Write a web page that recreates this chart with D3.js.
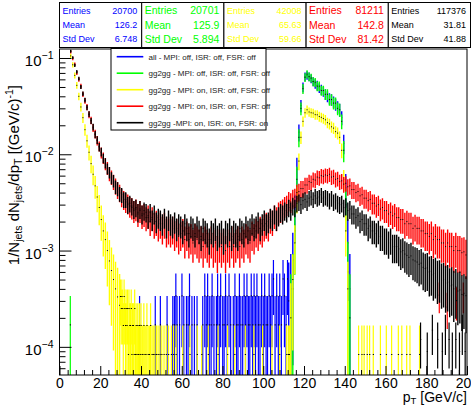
<!DOCTYPE html>
<html>
<head>
<meta charset="utf-8">
<script src="https://cdn.jsdelivr.net/npm/d3@7"></script>
<style>
  body { margin: 0; background: #fff; }
  svg { display: block; font-family: "Liberation Sans", Arial, sans-serif; }
</style>
</head>
<body>
<svg id="chart" width="471" height="406"></svg>
<script>
// ---------------- data ----------------
const seriesNames = [
  "all - MPI: off, ISR: off, FSR: off",
  "gg2gg - MPI: off, ISR: off, FSR: off",
  "gg2gg - MPI: on, ISR: off, FSR: off",
  "gg2gg - MPI: on, ISR: on, FSR: off",
  "gg2gg -MPI: on, ISR: on, FSR: on"
];
const seriesColors = ["#0000ff", "#00ff00", "#ffff00", "#ff0000", "#000000"];
const statEntries = ["20700", "20701", "42008", "81211", "117376"];
const statMeans = ["126.2", "125.9", "65.63", "142.8", "31.81"];
const statStdDevs = ["6.748", "5.894", "59.66", "81.42", "41.88"];
const entryCounts = [20700, 20701, 42008, 81211, 117376];

const xTickValues = [0, 20, 40, 60, 80, 100, 120, 140, 160, 180, 200];
const yTickValues = [1e-4, 1e-3, 1e-2, 1e-1];
const yTickExponents = ["\u22124", "\u22123", "\u22122", "\u22121"];

// 1 GeV cells, first cell starts at the given pT
const blackStart = 5;
const blackValues = [
  .118,.101,.084,.072,.061,.050,.0425,.0365,.0305,.0262,
  .0222,.0192,.0161,.0141,.0119,.0106,.0091,.0081,.0071,.0065,
  .0057,.0053,.0046,.0044,.0039,.0038,.0034,.0034,.0030,.0031,
  .0029,.0027,.0028,.0025,.0027,.0024,.0026,.0025,.0022,.0025,
  .0021,.0024,.0020,.0022,.0021,.0019,.0022,.0018,.0021,.0019,
  .0018,.0020,.0017,.0019,.0018,.0016,.0019,.0017,.0015,.0018,
  .0017,.0015,.0018,.0016,.0014,.0017,.0016,.0015,.0013,.0016,
  .0015,.0017,.0014,.0015,.0016,.0013,.0016,.0015,.0017,.0014,
  .0016,.0015,.0014,.0017,.0016,.0015,.0018,.0016,.0017,.0019,
  .0017,.0018,.0020,.0017,.0019,.0021,.0019,.0020,.0022,.0021,
  .0024,.0021,.0023,.0025,.0024,.0026,.0025,.0028,.0026,.0029,
  .0028,.0031,.0032,.0030,.0033,.0034,.0032,.0035,.0036,.0034,
  .0037,.0035,.0036,.0038,.0035,.0036,.0035,.0033,.0035,.0032,
  .0033,.0031,.0030,.0031,.0028,.0029,.0026,.0027,.0024,.0024,
  .0022,.0023,.0020,.0021,.0019,.0019,.0017,.0018,.0016,.0016,
  .0015,.0016,.0014,.0014,.0013,.0013,.0012,.0013,.0011,.0011,
  .0011,.00104,.00097,.0010,.00092,.00089,.00085,.00088,.0008,.00078,
  .00076,.00072,.00074,.00067,.00065,.00066,.0006,.00061,.00056,.00058,
  .00053,.00054,.00049,.0005,.00046,.00047,.00043,.00044,.0004,.00042,
  .00038,.00039,.00035,.00036,.00034
];

const redStart = 5;
const redValues = [
  .116,.099,.086,.070,.060,.051,.0420,.0360,.0310,.0258,
  .0225,.0188,.0163,.0139,.0121,.0104,.0092,.0080,.0072,.0063,
  .0058,.0052,.0047,.0043,.0040,.0036,.0034,.0032,.0031,.0029,
  .0028,.0026,.0027,.0024,.0026,.0023,.0024,.0022,.0023,.0020,
  .0022,.0019,.0020,.0018,.0019,.0017,.0019,.0016,.0017,.0016,
  .0017,.0015,.0016,.0014,.0015,.0016,.0013,.0015,.0013,.0014,
  .0012,.0014,.0013,.0012,.0013,.0011,.0013,.0012,.0011,.0013,
  .0011,.0012,.0010,.0012,.0011,.0012,.0010,.0012,.0011,.0013,
  .0011,.0012,.0013,.0011,.0013,.0012,.0014,.0013,.0012,.0015,
  .0014,.0016,.0015,.0017,.0016,.0018,.0019,.0018,.0021,.0020,
  .0023,.0022,.0025,.0026,.0027,.0029,.0030,.0033,.0032,.0035,
  .0036,.0040,.0041,.0044,.0044,.0048,.0048,.0052,.0051,.0055,
  .0054,.0058,.0057,.0060,.0059,.0061,.0060,.0062,.0058,.0059,
  .0055,.0056,.0052,.0053,.0049,.0050,.0046,.0047,.0043,.0043,
  .0040,.0041,.0037,.0038,.0035,.0035,.0033,.0034,.0031,.0031,
  .0029,.0030,.0027,.0028,.0026,.0026,.0024,.0025,.0023,.0024,
  .0022,.0022,.0021,.0021,.0019,.0020,.0019,.0019,.0017,.0018,
  .0017,.0017,.0016,.0016,.0015,.0015,.0014,.0015,.0013,.0014,
  .0013,.0013,.0012,.0012,.0011,.0012,.0011,.0011,.0010,.0011,
  .0010,.0010,.00095,.00097,.0009
];

const yellowLowStart = 5;
const yellowLowValues = [
  .105,.085,.066,.052,.040,.031,.024,.018,.0138,.0105,
  .0080,.0062,.0047,.0036,.0028,.0021,.0016,.0013,.0010,.00078,
  .00062,.0005,.0004,.00033,.00027
];
const yellowPeakStart = 113;
const yellowPeakValues = [
  .0002,.0005,.0012,.0035,.0085,.015,.022,.027,.029,.0275,
  .027,.0268,.0258,.0257,.0247,.0242,.0235,.0228,.0213,.0207,
  .0193,.0187,.0172,.0166,.015,.011,.0055,.0016,.0004
];
const greenPeakStart = 113;
const greenPeakValues = [
  .0002,.0004,.0016,.0055,.015,.030,.048,.063,.068,.064,
  .062,.057,.056,.051,.051,.046,.046,.042,.042,.037,
  .037,.034,.034,.030,.029,.022,.011,.003,.0006,.0002
];
const bluePeakStart = 112;
const bluePeakValues = [
  .0003,.0004,.0008,.0025,.0070,.017,.032,.050,.064,.066,
  .064,.061,.057,.054,.052,.049,.047,.045,.042,.040,
  .038,.037,.035,.033,.031,.029,.024,.013,.0045,.0012,.0004
];

// isolated fine bins: [pT, entries]
const blueSparse = [
  [39.3,1],[47.0,1],[49.5,1],[52.8,1],[55.6,1],[56.4,1],[57.1,2],[57.7,1],[58.9,1],
  [60.1,2],[61.0,1],[62.3,1],[63.1,1],[63.8,2],[65.0,1],[66.2,1],[67.5,1],[70.3,1],
  [71.3,2],[72.0,1],[72.7,2],[73.5,1],[74.4,1],[74.9,2],[75.8,1],[77.0,1],[77.6,2],
  [78.4,1],[79.1,2],[80.1,1],[80.8,1],[81.5,2],[82.3,1],[83.2,2],[84.0,1],[85.3,1],
  [86.1,2],[86.9,1],[87.6,1],[88.3,2],[89.0,1],[89.9,1],[90.6,2],[91.3,1],[92.0,2],
  [92.7,1],[93.4,1],[94.1,2],[94.8,1],[95.5,2],[96.2,1],[96.9,2],[97.6,1],[98.4,1],
  [99.2,2],[100.0,1],[100.7,2],[101.4,1],[102.1,1],[102.9,2],[103.6,1],[104.3,2],
  [105.0,3],[105.8,1],[106.6,2],[107.4,1],[108.1,2],[108.9,1],[109.7,3],[110.4,2],
  [111.2,1],[111.9,3]
];
const greenSparse = [[5.3,1]];
const yellowSparse = [
  [29.9,4],[30.3,3],[30.6,4],[31.0,3],[31.3,2],[31.7,4],[32.0,3],[32.4,2],[32.7,3],
  [33.1,2],[33.4,3],[33.8,1],[34.1,3],[34.5,2],[34.8,2],[35.2,3],[35.5,1],[35.9,2],
  [36.2,2],[36.6,1],[36.9,3],[37.3,1],[37.6,2],[38.0,1],[38.4,2],[38.8,1],[39.2,2],
  [39.6,1],[40.0,2],[40.5,1],[40.9,1],[41.4,2],[41.9,1],[42.4,1],[42.9,2],[43.5,1],
  [44.1,1],[44.7,2],[45.4,1],[46.0,1],[46.8,1],[47.6,1],[48.4,1],[49.3,1],[50.2,1],
  [51.3,1],[52.4,1],[53.5,1],[54.9,1],[56.0,1],[57.2,1],[60.5,1],[64.0,1],
  [67.6,1],[69.8,1],[73.0,1],[77.8,1],[82.5,1],[86.0,1],[91.2,1],[95.4,1],[99.7,1],
  [104.3,1],[108.0,1],[111.5,1],[112.3,1],[112.8,1],
  [146.8,1],[148.4,1],[149.5,1],[151.0,1],[152.2,1],[154.0,1],[157.5,1],[160.4,1],
  [163.0,1],[166.3,1],[168.0,1],[170.4,1],[172.0,1],[176.7,1]
];
const redSparse = [[186.4,8],[190.3,6],[194.8,7],[198.2,8]];
const blackSparse = [
  [177.2,4],[180.5,3],[183.0,5],[185.6,4],[187.9,3],[189.4,5],[191.2,4],
  [192.8,3],[194.5,4],[196.3,3],[197.7,5],[199.1,3]
];

// ---------------- drawing ----------------
const binWidth = 200 / 700;              // fine-bin width in GeV
const svg = d3.select("#chart");
const W = 471, H = 406;
const plot = { left: 59.5, right: 467, top: 49, bottom: 375 };

const x = d3.scaleLinear().domain([0, 200]).range([plot.left, plot.right]);
const y = d3.scaleLog().domain([5.1e-5, 0.124]).range([plot.bottom, plot.top]);
const yMin = y.domain()[0];

svg.append("rect").attr("width", W).attr("height", H).attr("fill", "#fff");

svg.append("defs").append("clipPath").attr("id", "plotClip")
  .append("rect")
  .attr("x", plot.left).attr("y", plot.top)
  .attr("width", plot.right - plot.left).attr("height", plot.bottom - plot.top);

const marks = svg.append("g").attr("clip-path", "url(#plotClip)");

// weight of one entry in normalised units
const unit = i => 1 / (entryCounts[i] * binWidth);

// Each 1 GeV cell stands for a few fine bins; its bar spans two
// standard errors so it covers the spread of those bins.
function drawCells(i, start, values) {
  const g = marks.append("g");
  const w = unit(i);
  const cells = values.map((v, k) => ({ p: start + k + 0.5, v }));
  g.selectAll("line").data(cells).join("line")
    .attr("x1", d => x(d.p)).attr("x2", d => x(d.p))
    .attr("y1", d => y(Math.max(yMin, d.v - 2 * Math.sqrt(d.v * w))))
    .attr("y2", d => y(d.v + 2 * Math.sqrt(d.v * w)))
    .attr("stroke", seriesColors[i]).attr("stroke-width", 1.4);
  g.selectAll("rect").data(cells).join("rect")
    .attr("x", d => x(d.p) - 0.5).attr("y", d => y(d.v) - 0.5)
    .attr("width", 1).attr("height", 1).attr("fill", "#000");
}

function drawSparse(i, entries) {
  const g = marks.append("g");
  const w = unit(i);
  const bins = entries.map(([p, n]) => ({ p, v: n * w, e: Math.sqrt(n) * w }));
  g.selectAll("line").data(bins).join("line")
    .attr("x1", d => x(d.p)).attr("x2", d => x(d.p))
    .attr("y1", d => y(Math.max(yMin, d.v - d.e)))
    .attr("y2", d => y(d.v + d.e))
    .attr("stroke", seriesColors[i]).attr("stroke-width", 1.2);
  g.selectAll("rect").data(bins).join("rect")
    .attr("x", d => x(d.p) - 0.5).attr("y", d => y(d.v) - 0.5)
    .attr("width", 1.2).attr("height", 1).attr("fill", "#000");
}

// draw order follows the legend
drawSparse(0, blueSparse);
drawCells(0, bluePeakStart, bluePeakValues);
drawSparse(1, greenSparse);
drawCells(1, greenPeakStart, greenPeakValues);
drawCells(2, yellowLowStart, yellowLowValues);
drawSparse(2, yellowSparse);
drawCells(2, yellowPeakStart, yellowPeakValues);
drawCells(3, redStart, redValues);
drawSparse(3, redSparse);
drawCells(4, blackStart, blackValues);
drawSparse(4, blackSparse);

// ---------------- axes ----------------
const xMinor = d3.range(0, 201, 4).filter(v => v % 20 !== 0);
const xAxisG = svg.append("g").attr("transform", `translate(0,${plot.bottom})`);
xAxisG.call(d3.axisBottom(x).tickValues(xMinor).tickSize(-5).tickFormat(""));
xAxisG.append("g").call(d3.axisBottom(x).tickValues(xTickValues).tickSize(-9)
  .tickPadding(3.5).tickFormat(d3.format("d")));
xAxisG.selectAll(".domain").remove();
xAxisG.selectAll("line").attr("stroke", "#000");
xAxisG.selectAll("text").attr("font-size", 14).attr("fill", "#000")
  .attr("font-family", "Liberation Sans, Arial, sans-serif");

const yMinor = y.ticks().filter(v => !yTickValues.some(t => Math.abs(t - v) / t < 1e-6));
const yAxisG = svg.append("g").attr("transform", `translate(${plot.left},0)`);
yAxisG.call(d3.axisLeft(y).tickValues(yMinor).tickSize(-6).tickFormat(""));
yAxisG.append("g").call(d3.axisLeft(y).tickValues(yTickValues).tickSize(-12).tickFormat(""));
yAxisG.selectAll(".domain").remove();
yAxisG.selectAll("line").attr("stroke", "#000");

// decade labels with superscript exponents
const yLab = svg.append("g").attr("font-size", 15).attr("fill", "#000");
yTickValues.forEach((v, k) => {
  const t = yLab.append("text").attr("x", 53.5).attr("y", y(v) + 8).attr("text-anchor", "end");
  t.append("tspan").text("10");
  t.append("tspan").attr("dy", -7).attr("font-size", 10.5).text(yTickExponents[k]);
});

// frame
svg.append("rect")
  .attr("x", plot.left).attr("y", plot.top)
  .attr("width", plot.right - plot.left).attr("height", plot.bottom - plot.top)
  .attr("fill", "none").attr("stroke", "#000").attr("stroke-width", 1);

// axis titles
const xt = svg.append("text").attr("x", 467).attr("y", 401.5).attr("text-anchor", "end")
  .attr("font-size", 14);
xt.append("tspan").text("p");
xt.append("tspan").attr("dy", 2.5).attr("font-size", 9.5).text("T");
xt.append("tspan").attr("dy", -2.5).text(" [GeV/c]");

const yt = svg.append("text")
  .attr("transform", "translate(19,85) rotate(-90)")
  .attr("text-anchor", "end").attr("font-size", 15);
yt.append("tspan").text("1/N");
yt.append("tspan").attr("dy", 3).attr("font-size", 10.5).text("jets");
yt.append("tspan").attr("dy", -3).text(" dN");
yt.append("tspan").attr("dy", 3).attr("font-size", 10.5).text("jets");
yt.append("tspan").attr("dy", -3).text("/dp");
yt.append("tspan").attr("dy", 3).attr("font-size", 10.5).text("T");
yt.append("tspan").attr("dy", -3).text(" [(GeV/c)");
yt.append("tspan").attr("dy", -6).attr("font-size", 10.5).text("-1");
yt.append("tspan").attr("dy", 6).text("]");

// ---------------- statistics boxes ----------------
const boxW = 82.2, boxTop = 2.5, boxH = 45;
const statFont = [9, 10.5, 9, 10.5, 9];
const statLabels = ["Entries", "Mean", "Std Dev"];
seriesColors.forEach((c, i) => {
  const bx = 59.5 + i * boxW;
  const g = svg.append("g");
  g.append("rect").attr("x", bx).attr("y", boxTop).attr("width", boxW).attr("height", boxH)
    .attr("fill", "#fff").attr("stroke", "#000").attr("stroke-width", 1);
  const vals = [statEntries[i], statMeans[i], statStdDevs[i]];
  statLabels.forEach((lab, r) => {
    const ty = boxTop + 11.5 + r * 14.2 + (statFont[i] - 9) * 0.3;
    g.append("text").attr("x", bx + 3).attr("y", ty).attr("font-size", statFont[i])
      .attr("fill", c).text(lab);
    g.append("text").attr("x", bx + boxW - 4.5).attr("y", ty).attr("text-anchor", "end")
      .attr("font-size", statFont[i]).attr("fill", c).text(vals[r]);
  });
});

// ---------------- legend ----------------
const leg = svg.append("g");
leg.append("rect").attr("x", 111).attr("y", 48.5).attr("width", 155).attr("height", 81.5)
  .attr("fill", "#fff").attr("stroke", "#000").attr("stroke-width", 1);
seriesNames.forEach((name, i) => {
  const ly = 56.7 + i * 16.5;
  leg.append("line").attr("x1", 116.7).attr("x2", 143.3).attr("y1", ly).attr("y2", ly)
    .attr("stroke", seriesColors[i]).attr("stroke-width", 1.6);
  leg.append("text").attr("x", 148.5).attr("y", ly + 3).attr("font-size", 8)
    .attr("fill", "#222").text(name);
});
</script>
</body>
</html>
